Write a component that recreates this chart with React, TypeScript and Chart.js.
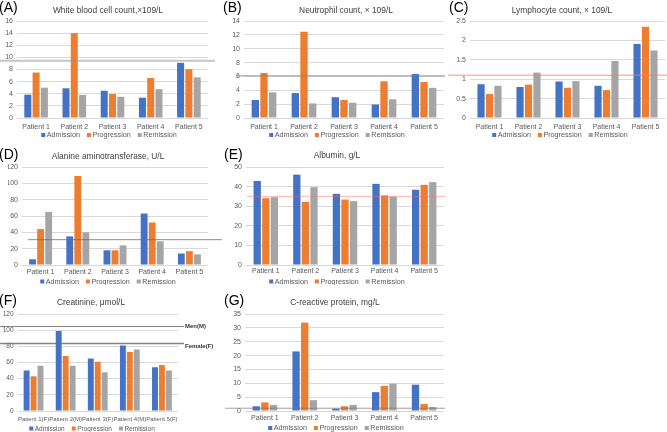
import React, { useEffect, useRef } from 'react';
import { Chart, registerables } from 'chart.js';

Chart.register(...registerables);

// ---------- data ----------
const patients = ['Patient 1', 'Patient 2', 'Patient 3', 'Patient 4', 'Patient 5'];
const creatininePatients = ['Patient 1(F)', 'Patient 2(M)', 'Patient 3(F)', 'Patient 4(M)', 'Patient 5(F)'];
const seriesNames = ['Admission', 'Progression', 'Remission'];
const seriesColors = ['#4472C4', '#ED7D31', '#A5A5A5'];

const wbcAdmission = [3.85, 4.9, 4.5, 3.35, 9.1];
const wbcProgression = [7.5, 14.0, 3.95, 6.6, 8.05];
const wbcRemission = [5.0, 3.8, 3.5, 4.75, 6.7];
const wbcReference = 9.45;

const neuAdmission = [2.6, 3.6, 3.0, 1.95, 6.35];
const neuProgression = [6.5, 12.45, 2.6, 5.3, 5.2];
const neuRemission = [3.7, 2.1, 2.2, 2.7, 4.35];
const neuReference = 6.1;

const lymAdmission = [0.87, 0.8, 0.94, 0.83, 1.91];
const lymProgression = [0.62, 0.86, 0.78, 0.72, 2.35];
const lymRemission = [0.83, 1.17, 0.95, 1.47, 1.74];
const lymReference = 1.1;

const altAdmission = [7, 35, 18, 63, 14];
const altProgression = [44, 109, 18, 52, 17];
const altRemission = [65, 40, 24, 29, 13];
const altReference = 31;

const albAdmission = [42.9, 46.1, 36.3, 41.4, 38.4];
const albProgression = [34.1, 32.2, 33.4, 35.5, 40.9];
const albRemission = [34.6, 39.7, 32.6, 34.9, 42.3];
const albReference = 35;

const creAdmission = [50, 99, 65, 81, 54];
const creProgression = [43, 68, 61, 73, 57];
const creRemission = [56, 56, 48, 76, 50];
const creMenReference = 104.5;
const creFemaleReference = 83.6;

const crpAdmission = [1.7, 21.5, 0.85, 6.8, 9.5];
const crpProgression = [3.1, 31.9, 1.7, 9.05, 2.5];
const crpRemission = [2.2, 3.9, 2.2, 9.9, 1.45];
const crpReference = 1.0;

// ---------- panels ----------
const FONT = "'Liberation Sans', Arial, sans-serif";

type RefLine = { value: number; color: string; width: number; x0: number; x1: number; label?: string; labelDy?: number };
type Panel = {
  letter: string;
  title: string;
  labels: string[];
  series: number[][];
  max: number;
  step: number;
  box: { left: number; top: number; w: number; h: number };
  area: { l: number; r: number; t: number; b: number };
  titleX: number; titleY: number;
  letterX: number; letterY: number;
  legendX: number; legendY: number;
  xPad: number;
  tickSize: number;
  xTickSize: number;
  legendSize: number;
  lines: RefLine[];
};

const panels: Panel[] = [
  {
    letter: '(A)', title: 'White blood cell count,×109/L', labels: patients,
    series: [wbcAdmission, wbcProgression, wbcRemission], max: 16, step: 2,
    box: { left: 0, top: 0, w: 222, h: 140 }, area: { l: 17, r: 208, t: 21, b: 118 },
    titleX: 108, titleY: 11, letterX: -1, letterY: 8, legendX: 109, legendY: 135, xPad: 5, tickSize: 7, xTickSize: 7, legendSize: 7.2,
    lines: [{ value: wbcReference, color: 'rgba(150,150,150,0.55)', width: 2, x0: 0, x1: 215 }],
  },
  {
    letter: '(B)', title: 'Neutrophil count, × 109/L', labels: patients,
    series: [neuAdmission, neuProgression, neuRemission], max: 14, step: 2,
    box: { left: 222, top: 0, w: 223, h: 140 }, area: { l: 22, r: 222, t: 21, b: 118 },
    titleX: 124, titleY: 11, letterX: 1, letterY: 8, legendX: 115, legendY: 135, xPad: 5, tickSize: 7, xTickSize: 7, legendSize: 7.2,
    lines: [{ value: neuReference, color: 'rgba(130,130,130,0.55)', width: 1.6, x0: 15, x1: 223 }],
  },
  {
    letter: '(C)', title: 'Lymphocyte count, × 109/L', labels: patients,
    series: [lymAdmission, lymProgression, lymRemission], max: 2.5, step: 0.5,
    box: { left: 445, top: 0, w: 222, h: 140 }, area: { l: 25, r: 220, t: 21, b: 118 },
    titleX: 117, titleY: 11, letterX: 4, letterY: 8, legendX: 115, legendY: 135, xPad: 5, tickSize: 7, xTickSize: 7, legendSize: 7.2,
    lines: [{ value: lymReference, color: 'rgba(250,120,120,0.55)', width: 1.5, x0: 3, x1: 222 }],
  },
  {
    letter: '(D)', title: 'Alanine aminotransferase, U/L', labels: patients,
    series: [altAdmission, altProgression, altRemission], max: 120, step: 20,
    box: { left: 0, top: 140, w: 222, h: 145 }, area: { l: 22, r: 208, t: 27, b: 125 },
    titleX: 108, titleY: 17, letterX: -1, letterY: 15, legendX: 108, legendY: 141.5, xPad: 2.5, tickSize: 7, xTickSize: 7, legendSize: 7.2,
    lines: [{ value: altReference, color: 'rgba(110,110,110,0.8)', width: 1, x0: 28, x1: 222 }],
  },
  {
    letter: '(E)', title: 'Albumin, g/L', labels: patients,
    series: [albAdmission, albProgression, albRemission], max: 50, step: 5,
    box: { left: 222, top: 140, w: 223, h: 145 }, area: { l: 24, r: 222, t: 27, b: 125 },
    titleX: 115, titleY: 16, letterX: 2, letterY: 15, legendX: 115, legendY: 141.5, xPad: 2, tickSize: 7, xTickSize: 7, legendSize: 7.2,
    lines: [{ value: albReference, color: 'rgba(250,110,110,0.5)', width: 1, x0: 25, x1: 223 }],
  },
  {
    letter: '(F)', title: 'Creatinine, μmol/L', labels: creatininePatients,
    series: [creAdmission, creProgression, creRemission], max: 120, step: 20,
    box: { left: 0, top: 285, w: 222, h: 147 }, area: { l: 17.5, r: 178, t: 29, b: 126 },
    titleX: 91, titleY: 18, letterX: -1, letterY: 16, legendX: 92, legendY: 143.5, xPad: 5, tickSize: 6.5, xTickSize: 6, legendSize: 6.5,
    lines: [
      { value: creMenReference, color: 'rgba(110,110,110,0.85)', width: 1, x0: 0, x1: 184, label: 'Men(M)', labelDy: 0 },
      { value: creFemaleReference, color: 'rgba(110,110,110,0.85)', width: 1.5, x0: 0, x1: 184, label: 'Female(F)', labelDy: 3 },
    ],
  },
  {
    letter: '(G)', title: 'C-reactive protein, mg/L', labels: patients,
    series: [crpAdmission, crpProgression, crpRemission], max: 35, step: 5,
    box: { left: 222, top: 285, w: 223, h: 147 }, area: { l: 23, r: 222, t: 29, b: 126 },
    titleX: 113, titleY: 18, letterX: 2, letterY: 16, legendX: 114, legendY: 143, xPad: 3, tickSize: 7, xTickSize: 7, legendSize: 7.2,
    lines: [{ value: crpReference, color: 'rgba(120,120,120,0.7)', width: 1, x0: 3, x1: 223 }],
  },
];

const decorPlugin = {
  id: 'decor',
  afterDatasetsDraw(chart: any) {
    const p: Panel = chart.config.options.panel;
    const ctx = chart.ctx;
    const ys = chart.scales.y;
    for (const l of p.lines) {
      const py = ys.getPixelForValue(l.value);
      ctx.save();
      ctx.strokeStyle = l.color;
      ctx.lineWidth = l.width;
      ctx.beginPath();
      ctx.moveTo(l.x0, py);
      ctx.lineTo(l.x1, py);
      ctx.stroke();
      if (l.label) {
        ctx.fillStyle = '#333333';
        ctx.font = `bold 6px ${FONT}`;
        ctx.textAlign = 'left';
        ctx.textBaseline = 'middle';
        ctx.fillText(l.label, l.x1 + 1, py + (l.labelDy || 0));
      }
      ctx.restore();
    }
  },
  afterDraw(chart: any) {
    const p: Panel = chart.config.options.panel;
    const ctx = chart.ctx;
    ctx.save();
    // letter
    ctx.fillStyle = '#000000';
    ctx.font = `14px ${FONT}`;
    ctx.textAlign = 'left';
    ctx.textBaseline = 'middle';
    ctx.fillText(p.letter, p.letterX, p.letterY);
    // title
    ctx.fillStyle = '#404040';
    ctx.font = `8.4px ${FONT}`;
    ctx.textAlign = 'center';
    ctx.fillText(p.title, p.titleX, p.titleY);
    // legend
    ctx.font = `${p.legendSize}px ${FONT}`;
    const box = 4;
    const gapBox = 1.5;
    const gapItem = 7;
    const ds = chart.data.datasets;
    let total = 0;
    const widths = ds.map((d: any) => ctx.measureText(d.label).width);
    widths.forEach((w: number, i: number) => {
      total += box + gapBox + w + (i < widths.length - 1 ? gapItem : 0);
    });
    let x = p.legendX - total / 2;
    ctx.textAlign = 'left';
    ds.forEach((d: any, i: number) => {
      ctx.fillStyle = d.backgroundColor;
      ctx.fillRect(x, p.legendY - box / 2, box, box);
      x += box + gapBox;
      ctx.fillStyle = '#595959';
      ctx.fillText(d.label, x, p.legendY + 0.5);
      x += widths[i] + gapItem;
    });
    ctx.restore();
  },
};

function PanelChart({ panel }: { panel: Panel }) {
  const ref = useRef<HTMLCanvasElement | null>(null);
  useEffect(() => {
    if (!ref.current) return;
    const yw = 14;
    const xh = 14;
    const chart = new Chart(ref.current, {
      type: 'bar',
      data: {
        labels: panel.labels,
        datasets: panel.series.map((s, i) => ({
          label: seriesNames[i],
          data: s,
          backgroundColor: seriesColors[i],
          borderWidth: 0,
          barPercentage: 0.85,
          categoryPercentage: 0.65,
        })),
      },
      options: {
        panel,
        responsive: false,
        maintainAspectRatio: false,
        animation: false,
        devicePixelRatio: 1,
        layout: {
          padding: {
            left: panel.area.l - yw,
            right: panel.box.w - panel.area.r,
            top: panel.area.t,
            bottom: panel.box.h - panel.area.b - xh,
          },
        },
        plugins: {
          legend: { display: false },
          title: { display: false },
          tooltip: { enabled: false },
        },
        scales: {
          x: {
            grid: { display: false, drawTicks: false },
            border: { display: false },
            ticks: {
              font: { family: FONT, size: panel.xTickSize },
              color: '#595959',
              padding: panel.xPad,
              maxRotation: 0,
              minRotation: 0,
              autoSkip: false,
            },
            afterFit: (s: any) => { s.height = xh; },
          },
          y: {
            min: 0,
            max: panel.max,
            ticks: {
              stepSize: panel.step,
              font: { family: FONT, size: panel.tickSize },
              color: '#595959',
              padding: 4,
              callback: (v: any) => String(Math.round(Number(v) * 100) / 100),
            },
            grid: { color: '#d9d9d9', lineWidth: 1, drawTicks: false },
            border: { display: false },
            afterFit: (s: any) => { s.width = yw; },
          },
        },
      } as any,
      plugins: [decorPlugin as any],
    });
    return () => chart.destroy();
  }, [panel]);
  return (
    <canvas
      ref={ref}
      width={panel.box.w}
      height={panel.box.h}
      style={{ position: 'absolute', left: panel.box.left, top: panel.box.top, width: panel.box.w, height: panel.box.h }}
    />
  );
}

export default function App() {
  return (
    <div style={{ position: 'fixed', left: 0, top: 0, width: 667, height: 432, background: '#ffffff', overflow: 'hidden' }}>
      {panels.map((p) => (
        <PanelChart key={p.letter} panel={p} />
      ))}
    </div>
  );
}
